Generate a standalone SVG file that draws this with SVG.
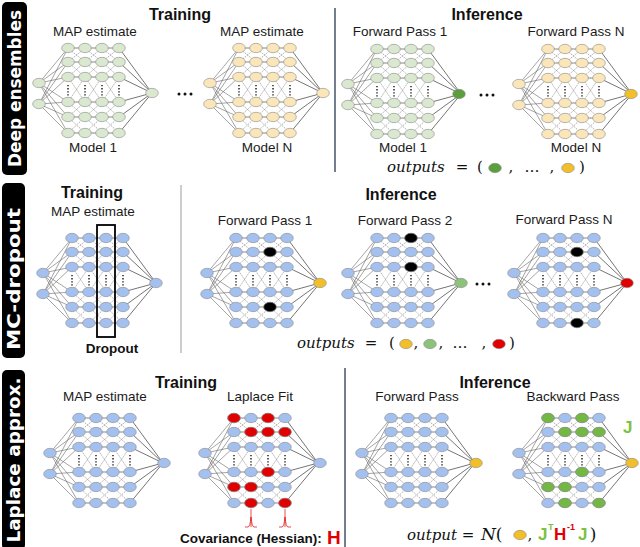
<svg xmlns="http://www.w3.org/2000/svg" xmlns:xlink="http://www.w3.org/1999/xlink" width="640" height="547" viewBox="0 0 640 547">
<style>
.t{font-family:"Liberation Sans",Arial,sans-serif;font-size:13.5px;fill:#1a1a1a;text-anchor:middle}
.b{font-family:"Liberation Sans",Arial,sans-serif;font-weight:bold;font-size:16px;fill:#111;text-anchor:middle}
.lab{font-family:"DejaVu Sans",sans-serif;font-weight:bold;font-size:18px;fill:#fff;text-anchor:middle}
.m{font-family:"DejaVu Serif",serif;font-style:italic;font-size:15px;fill:#111}
.p{font-family:"DejaVu Serif",serif;font-size:15px;fill:#111;text-anchor:middle}
.nd{stroke:#8a8a8a;stroke-width:0.6}
.pg{fill:#d9e8cf}
.py{fill:#fbe6b9}
.bl{fill:#a3c0ef}
.dg{fill:#5b9e3d}
.gd{fill:#f2bf2a}
.lg{fill:#8cc27a}
.rd{fill:#e00000}
.bk{fill:#000}
.gn{fill:#72b843}
.sep{stroke:#44546a;stroke-width:1.5}
.sepl{stroke:#9a9a9a;stroke-width:1}
</style>
<defs>
<g id="net">
<path d="M0,-8L29,-43M0,-8L29,-29M0,-8L29,-14M0,-8L29,11M0,-8L29,26M0,-8L29,42M0,13L29,-43M0,13L29,-29M0,13L29,-14M0,13L29,11M0,13L29,26M0,13L29,42" fill="none" stroke="#5a5a5a" stroke-width="0.55"/>
<path d="M29,-43H80M29,-29H80M29,-14H80M29,11H80M29,26H80M29,42H80" fill="none" stroke="#444" stroke-width="0.65"/>
<path d="M29,-43L46,-29M29,-29L46,-43M29,-29L46,-14M29,-14L46,-29M29,-14L46,11M29,11L46,-14M29,11L46,26M29,26L46,11M29,26L46,42M29,42L46,26M46,-43L63,-29M46,-29L63,-43M46,-29L63,-14M46,-14L63,-29M46,-14L63,11M46,11L63,-14M46,11L63,26M46,26L63,11M46,26L63,42M46,42L63,26M63,-43L80,-29M63,-29L80,-43M63,-29L80,-14M63,-14L80,-29M63,-14L80,11M63,11L80,-14M63,11L80,26M63,26L80,11M63,26L80,42M63,42L80,26" fill="none" stroke="#666" stroke-width="0.55" stroke-dasharray="1.5 1"/>
<path d="M80,-43L113,2M80,-29L113,2M80,-14L113,2M80,11L113,2M80,26L113,2M80,42L113,2" fill="none" stroke="#2a2a2a" stroke-width="0.65"/>
<path d="M29,-6V5M46,-6V5M63,-6V5M80,-6V5" fill="none" stroke="#000" stroke-width="1.3" stroke-dasharray="1.3 1.8"/>
<g class="nd">
<ellipse cx="0" cy="-8" rx="6.3" ry="4.7"/><ellipse cx="0" cy="13" rx="6.3" ry="4.7"/>
<ellipse cx="29" cy="-43" rx="6.3" ry="4.7"/><ellipse cx="29" cy="-29" rx="6.3" ry="4.7"/><ellipse cx="29" cy="-14" rx="6.3" ry="4.7"/><ellipse cx="29" cy="11" rx="6.3" ry="4.7"/><ellipse cx="29" cy="26" rx="6.3" ry="4.7"/><ellipse cx="29" cy="42" rx="6.3" ry="4.7"/>
<ellipse cx="46" cy="-43" rx="6.3" ry="4.7"/><ellipse cx="46" cy="-29" rx="6.3" ry="4.7"/><ellipse cx="46" cy="-14" rx="6.3" ry="4.7"/><ellipse cx="46" cy="11" rx="6.3" ry="4.7"/><ellipse cx="46" cy="26" rx="6.3" ry="4.7"/><ellipse cx="46" cy="42" rx="6.3" ry="4.7"/>
<ellipse cx="63" cy="-43" rx="6.3" ry="4.7"/><ellipse cx="63" cy="-29" rx="6.3" ry="4.7"/><ellipse cx="63" cy="-14" rx="6.3" ry="4.7"/><ellipse cx="63" cy="11" rx="6.3" ry="4.7"/><ellipse cx="63" cy="26" rx="6.3" ry="4.7"/><ellipse cx="63" cy="42" rx="6.3" ry="4.7"/>
<ellipse cx="80" cy="-43" rx="6.3" ry="4.7"/><ellipse cx="80" cy="-29" rx="6.3" ry="4.7"/><ellipse cx="80" cy="-14" rx="6.3" ry="4.7"/><ellipse cx="80" cy="11" rx="6.3" ry="4.7"/><ellipse cx="80" cy="26" rx="6.3" ry="4.7"/><ellipse cx="80" cy="42" rx="6.3" ry="4.7"/>
</g>
</g>
<ellipse id="dot" cx="0" cy="0" rx="6.3" ry="4.7" class="nd"/>
</defs>

<g id="labels">
<rect x="2" y="2" width="25" height="173" rx="5" fill="#000"/>
<text class="lab" transform="translate(21,88.5) rotate(-90)" textLength="157" lengthAdjust="spacingAndGlyphs">Deep ensembles</text>
<rect x="2" y="183" width="23" height="175" rx="5" fill="#000"/>
<text class="lab" transform="translate(20,279) rotate(-90)" textLength="142" lengthAdjust="spacingAndGlyphs">MC-dropout</text>
<rect x="2" y="370" width="23" height="180" rx="5" fill="#000"/>
<text class="lab" transform="translate(20,460) rotate(-90)" textLength="165" lengthAdjust="spacingAndGlyphs">Laplace approx.</text>
</g>

<g id="separators">
<line class="sep" x1="335" y1="8" x2="335" y2="172"/>
<line class="sepl" x1="181" y1="185" x2="181" y2="353"/>
<line class="sep" x1="345" y1="368" x2="345" y2="547"/>
</g>

<!-- Row 1: Deep ensembles -->
<g id="de-titles">
<text class="b" x="180" y="20">Training</text>
<text class="b" x="487" y="20">Inference</text>
<text class="t" x="95" y="36">MAP estimate</text>
<text class="t" x="262" y="36">MAP estimate</text>
<text class="t" x="93" y="152">Model 1</text>
<text class="t" x="267" y="152">Model N</text>
<text class="t" x="400" y="36">Forward Pass 1</text>
<text class="t" x="576" y="36">Forward Pass N</text>
<text class="t" x="403" y="152">Model 1</text>
<text class="t" x="576" y="152">Model N</text>
</g>
<g id="de-model1"><use href="#net" x="39" y="91" class="pg"/><use href="#dot" x="152" y="93" class="pg"/></g>
<g id="de-modelN"><use href="#net" x="210" y="91" class="py"/><use href="#dot" x="323" y="93" class="py"/></g>
<g id="de-ellipsis1" fill="#111"><circle cx="179" cy="94" r="1.5"/><circle cx="185" cy="94" r="1.5"/><circle cx="191" cy="94" r="1.5"/></g>
<g id="de-pass1"><use href="#net" x="348" y="92" class="pg"/><use href="#dot" x="459" y="94" class="dg"/></g>
<g id="de-ellipsis2" fill="#111"><circle cx="481" cy="95" r="1.5"/><circle cx="487" cy="95" r="1.5"/><circle cx="493" cy="95" r="1.5"/></g>
<g id="de-passN"><use href="#net" x="519" y="92" class="py"/><use href="#dot" x="631" y="94" class="gd"/></g>
<g id="de-outputs">
<text class="m" x="387" y="172">outputs</text>
<text class="p" x="462" y="172">=</text>
<text class="p" x="480" y="172">(</text>
<use href="#dot" x="495" y="168" class="dg"/>
<text class="p" x="511" y="172">,</text>
<text class="p" x="532" y="172">…</text>
<text class="p" x="552" y="172">,</text>
<use href="#dot" x="568" y="168" class="gd"/>
<text class="p" x="582" y="172">)</text>
</g>

<!-- Row 2: MC-dropout -->
<g id="mc-titles">
<text class="b" x="92" y="198">Training</text>
<text class="t" x="93" y="216">MAP estimate</text>
<text class="b" x="112" y="353" style="font-size:13.5px">Dropout</text>
<text class="b" x="401" y="200">Inference</text>
<text class="t" x="265" y="225">Forward Pass 1</text>
<text class="t" x="405" y="225">Forward Pass 2</text>
<text class="t" x="564" y="224">Forward Pass N</text>
</g>
<g id="mc-train"><use href="#net" x="43" y="281" class="bl"/><use href="#dot" x="156" y="283" class="bl"/>
<rect x="97" y="225" width="18" height="112" fill="none" stroke="#000" stroke-width="1.8"/></g>
<g id="mc-pass1"><use href="#net" x="207" y="281" class="bl"/><use href="#dot" x="320" y="283" class="gd"/>
<use href="#dot" x="270" y="252" class="bk"/><use href="#dot" x="270" y="307" class="bk"/></g>
<g id="mc-pass2"><use href="#net" x="348" y="281" class="bl"/><use href="#dot" x="461" y="283" class="lg"/>
<use href="#dot" x="411" y="238" class="bk"/><use href="#dot" x="411" y="267" class="bk"/></g>
<g id="mc-ellipsis" fill="#111"><circle cx="477" cy="284" r="1.5"/><circle cx="483" cy="284" r="1.5"/><circle cx="489" cy="284" r="1.5"/></g>
<g id="mc-passN"><use href="#net" x="514" y="281" class="bl"/><use href="#dot" x="627" y="283" class="rd"/>
<use href="#dot" x="577" y="252" class="bk"/><use href="#dot" x="577" y="323" class="bk"/></g>
<g id="mc-outputs">
<text class="m" x="297" y="348">outputs</text>
<text class="p" x="371" y="348">=</text>
<text class="p" x="392" y="348">(</text>
<use href="#dot" x="406" y="344" class="gd"/>
<text class="p" x="416" y="348">,</text>
<use href="#dot" x="430" y="344" class="lg"/>
<text class="p" x="441" y="348">,</text>
<text class="p" x="460" y="348">…</text>
<text class="p" x="484" y="348">,</text>
<use href="#dot" x="499" y="344" class="rd"/>
<text class="p" x="512" y="348">)</text>
</g>

<!-- Row 3: Laplace -->
<g id="la-titles">
<text class="b" x="186" y="388">Training</text>
<text class="t" x="105" y="401">MAP estimate</text>
<text class="t" x="260" y="401">Laplace Fit</text>
<text class="b" x="495" y="388">Inference</text>
<text class="t" x="417" y="401">Forward Pass</text>
<text class="t" x="573" y="401">Backward Pass</text>
<text class="b" x="180" y="543" style="font-size:13.5px;text-anchor:start">Covariance (Hessian):</text>
<text class="b" x="327" y="544" style="font-size:19px;text-anchor:start;fill:#e00000">H</text>
<text class="b" x="623" y="433" style="font-size:17px;text-anchor:start;fill:#7cc242">J</text>
</g>
<g id="la-map"><use href="#net" x="50" y="461" class="bl"/><use href="#dot" x="164" y="463" class="bl"/></g>
<g id="la-fit"><use href="#net" x="205" y="461" class="bl"/><use href="#dot" x="320" y="463" class="bl"/>
<g class="rd">
<use href="#dot" x="234" y="418"/><use href="#dot" x="268" y="418"/>
<use href="#dot" x="251" y="432"/><use href="#dot" x="268" y="432"/><use href="#dot" x="285" y="432"/>
<use href="#dot" x="268" y="472"/>
<use href="#dot" x="234" y="487"/><use href="#dot" x="251" y="487"/>
<use href="#dot" x="251" y="503"/><use href="#dot" x="285" y="503"/>
</g>
<path d="M251,509V527M245,527H248Q250,527 251,517Q252,527 254,527H257M285,509V527M279,527H282Q284,527 285,517Q286,527 288,527H291" fill="none" stroke="#e00000" stroke-width="0.7"/>
</g>
<g id="la-forward"><use href="#net" x="362" y="461" class="bl"/><use href="#dot" x="476" y="463" class="gd"/></g>
<g id="la-backward"><use href="#net" x="519" y="461" class="bl"/><use href="#dot" x="632" y="463" class="gd"/>
<g class="gn">
<use href="#dot" x="548" y="418"/><use href="#dot" x="582" y="418"/>
<use href="#dot" x="565" y="432"/><use href="#dot" x="582" y="432"/><use href="#dot" x="599" y="432"/>
<use href="#dot" x="582" y="472"/>
<use href="#dot" x="548" y="487"/><use href="#dot" x="565" y="487"/>
<use href="#dot" x="565" y="503"/><use href="#dot" x="599" y="503"/>
</g>
</g>
<g id="la-output">
<text class="m" x="407" y="540">output</text>
<text class="p" x="468" y="540">=</text>
<text class="m" x="481" y="540" style="font-size:17px">N</text>
<text class="p" x="499" y="540" style="font-size:17px">(</text>
<use href="#dot" x="520" y="535" class="gd"/>
<text class="p" x="530" y="540">,</text>
<text class="b" x="538" y="540" style="font-size:17px;text-anchor:start;fill:#7cc242">J</text>
<text class="b" x="548" y="530" style="font-size:9px;text-anchor:start;fill:#7cc242">T</text>
<text class="b" x="554" y="540" style="font-size:17px;text-anchor:start;fill:#e00000">H</text>
<text class="b" x="567" y="530" style="font-size:9px;text-anchor:start;fill:#e00000">-1</text>
<text class="b" x="578" y="540" style="font-size:17px;text-anchor:start;fill:#7cc242">J</text>
<text class="p" x="593" y="540" style="font-size:17px">)</text>
</g>
</svg>
